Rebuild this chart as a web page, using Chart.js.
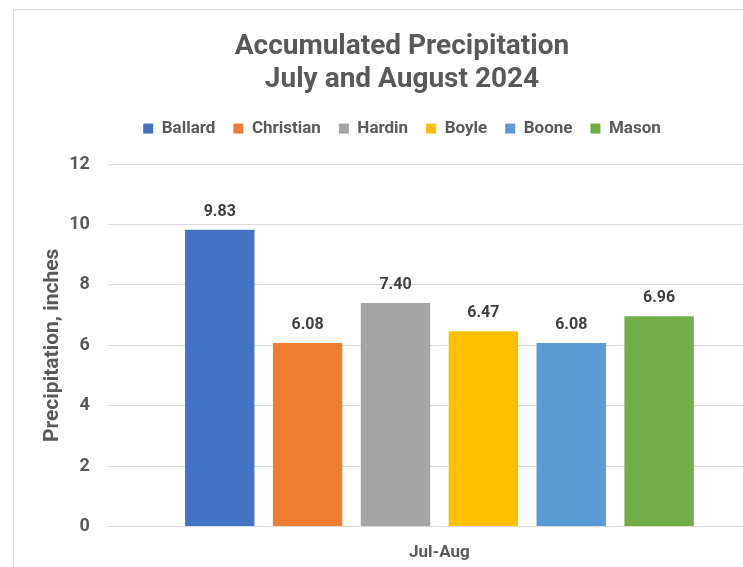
<!DOCTYPE html>
<html>
<head>
<meta charset="utf-8">
<script src="https://cdn.jsdelivr.net/npm/chart.js@4.4.0/dist/chart.umd.min.js"></script>
<style>
  html, body { margin: 0; padding: 0; background: #fff; overflow: hidden; }
  #wrap { position: absolute; left: 13px; top: 9px; width: 777px; height: 580px;
          border-left: 1px solid #d9d9d9; border-top: 1px solid #d9d9d9; }
</style>
</head>
<body>
<div id="wrap"><canvas id="chart"></canvas></div>
<script>
var categories = ["Jul-Aug"];
var counties = ["Ballard", "Christian", "Hardin", "Boyle", "Boone", "Mason"];
var precip = [9.83, 6.08, 7.40, 6.47, 6.08, 6.96];
var colors = ["#4472c4", "#ed7d31", "#a5a5a5", "#ffc000", "#5b9bd5", "#70ad47"];

var fontName = "Roboto";
var textColor = "#595959";

var datasets = [];
for (var i = 0; i < counties.length; i++) {
    datasets.push({
        label: counties[i],
        backgroundColor: colors[i],
        data: [precip[i]],
        categoryPercentage: 0.795,
        barPercentage: 0.79
    });
}

// draw the value above each bar
var valueLabels = {
    id: 'valueLabels',
    afterDatasetsDraw: function(chart) {
        var ctx = chart.ctx;
        ctx.save();
        ctx.font = "bold 16px " + fontName;
        ctx.fillStyle = "#404040";
        ctx.textAlign = "center";
        ctx.textBaseline = "middle";
        chart.data.datasets.forEach(function(ds, i) {
            var meta = chart.getDatasetMeta(i);
            meta.data.forEach(function(bar, j) {
                ctx.fillText(ds.data[j].toFixed(2), bar.x, bar.y - 18);
            });
        });
        ctx.restore();
    }
};

// extra room under the legend
var legendGap = {
    id: 'legendGap',
    beforeInit: function(chart) {
        if (!chart.legend) return;
        var fitLegend = chart.legend.fit;
        chart.legend.fit = function() {
            fitLegend.call(this);
            this.height += 17;
        };
    }
};

var ctx = document.getElementById("chart");
var myChart = new Chart(ctx, {
    type: 'bar',
    data: { labels: categories, datasets: datasets },
    plugins: [valueLabels, legendGap],
    options: {
        responsive: true,
        maintainAspectRatio: false,
        animation: false,
        layout: { padding: { left: 19, right: 20, top: 12, bottom: 19 } },
        plugins: {
            title: {
                display: true,
                text: ["Accumulated Precipitation", "July and August 2024"],
                color: textColor,
                font: { family: fontName, size: 28, weight: 'bold', lineHeight: 1.18 },
                padding: { top: 8, bottom: 6 }
            },
            legend: {
                display: true,
                labels: {
                    color: textColor,
                    font: { family: fontName, size: 17, weight: 'bold' },
                    boxWidth: 10,
                    boxHeight: 10,
                    padding: 18
                }
            },
            tooltip: { enabled: false }
        },
        scales: {
            x: {
                grid: { display: false },
                border: { display: true, color: "#d9d9d9", width: 1 },
                ticks: { color: textColor, font: { family: fontName, size: 17, weight: 'bold' }, padding: 8 }
            },
            y: {
                min: 0,
                max: 12,
                ticks: { stepSize: 2, color: textColor, font: { family: fontName, size: 18, weight: 'bold' }, padding: 18 },
                grid: { color: "#d9d9d9", drawTicks: false },
                border: { display: false },
                title: {
                    display: true,
                    text: "Precipitation, inches",
                    color: textColor,
                    font: { family: fontName, size: 21, weight: 'bold' },
                    padding: { top: 7, bottom: -14 }
                }
            }
        }
    }
});
</script>
</body>
</html>
